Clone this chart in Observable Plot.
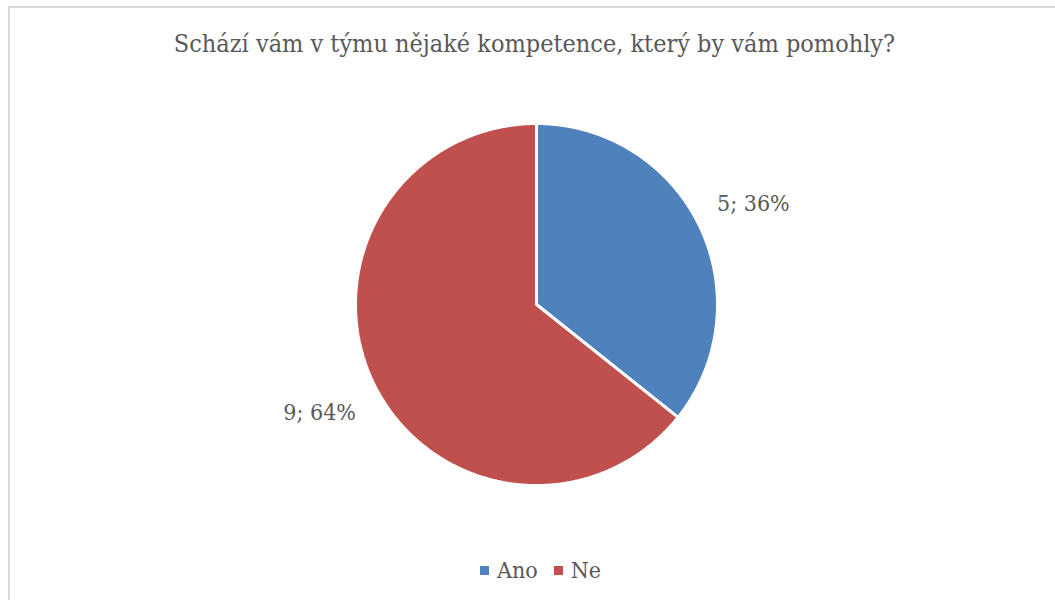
<!DOCTYPE html>
<html>
<head>
<meta charset="utf-8">
<script src="https://cdn.jsdelivr.net/npm/d3@7"></script>
<script src="https://cdn.jsdelivr.net/npm/@observablehq/plot@0.6"></script>
<style>
  html, body { margin: 0; padding: 0; background: #fff; }
  body { width: 1055px; height: 600px; position: relative; overflow: hidden;
         font-family: "DejaVu Serif Condensed", "Liberation Serif", serif; color: #595959; }
  #frame { position: absolute; left: 8px; top: 6px; width: 1100px; height: 650px;
           border-left: 2px solid #d9d9d9; border-top: 2px solid #d9d9d9; box-sizing: border-box; }
  #title { height: 88px; line-height: 88px; text-align: center; font-size: 25px; padding-left: 14px; }
  #chart { position: absolute; top: 90px; left: 0; }
  #chart svg { display: block; }
  #legend { position: absolute; top: 555px; left: 0; width: 1055px; text-align: center;
            font-size: 23px; line-height: 30px; padding-left: 26px; box-sizing: border-box; }
  .sw { display: inline-block; width: 9px; height: 9px; margin-right: 8px; vertical-align: middle; position: relative; top: -2px; }
  .item { margin: 0 8px; }
</style>
</head>
<body>
<div id="frame"></div>
<div id="title">Schází vám v týmu nějaké kompetence, který by vám pomohly?</div>
<div id="chart"></div>
<div id="legend"></div>
<script>
const categories = ["Ano", "Ne"];
const counts = [5, 9];
const colors = ["#4F81BD", "#C0504D"];

const data = categories.map((c, i) => ({cat: c, count: counts[i]}));
const total = d3.sum(counts);
const arcs = d3.pie().sort(null).value(d => d.count)(data);

const pts = [];
for (const a of arcs) {
  pts.push({cat: a.data.cat, x: 0, y: 0});
  const n = Math.max(2, Math.ceil((a.endAngle - a.startAngle) / (Math.PI / 360)));
  for (let k = 0; k <= n; k++) {
    const t = a.startAngle + (a.endAngle - a.startAngle) * k / n;
    pts.push({cat: a.data.cat, x: Math.sin(t), y: Math.cos(t)});
  }
  pts.push({cat: a.data.cat, x: 0, y: 0});
}

const labels = arcs.map(a => {
  const m = (a.startAngle + a.endAngle) / 2;
  const r = 1.33;
  return {
    cat: a.data.cat,
    x: Math.sin(m) * r,
    y: Math.cos(m) * r,
    text: `${a.data.count}; ${Math.round(a.data.count / total * 100)}%`
  };
});

const plot = Plot.plot({
  width: 1055,
  height: 450,
  marginLeft: 355,
  marginRight: 338,
  marginTop: 33,
  marginBottom: 55,
  x: {domain: [-1, 1], axis: null},
  y: {domain: [-1, 1], axis: null},
  color: {domain: categories, range: colors},
  style: {fontFamily: '"DejaVu Serif Condensed", "Liberation Serif", serif', background: "transparent"},
  marks: [
    Plot.line(pts, {x: "x", y: "y", z: "cat", fill: "cat", stroke: "white", strokeWidth: 3, strokeLinejoin: "miter"}),
    Plot.text(labels, {x: "x", y: "y", text: "text", fontSize: 23, fill: "#595959", dy: 4})
  ]
});
document.getElementById("chart").appendChild(plot);

const legend = document.getElementById("legend");
categories.forEach((c, i) => {
  const span = document.createElement("span");
  span.className = "item";
  const sw = document.createElement("span");
  sw.className = "sw";
  sw.style.background = colors[i];
  span.appendChild(sw);
  span.appendChild(document.createTextNode(c));
  legend.appendChild(span);
});
</script>
</body>
</html>
